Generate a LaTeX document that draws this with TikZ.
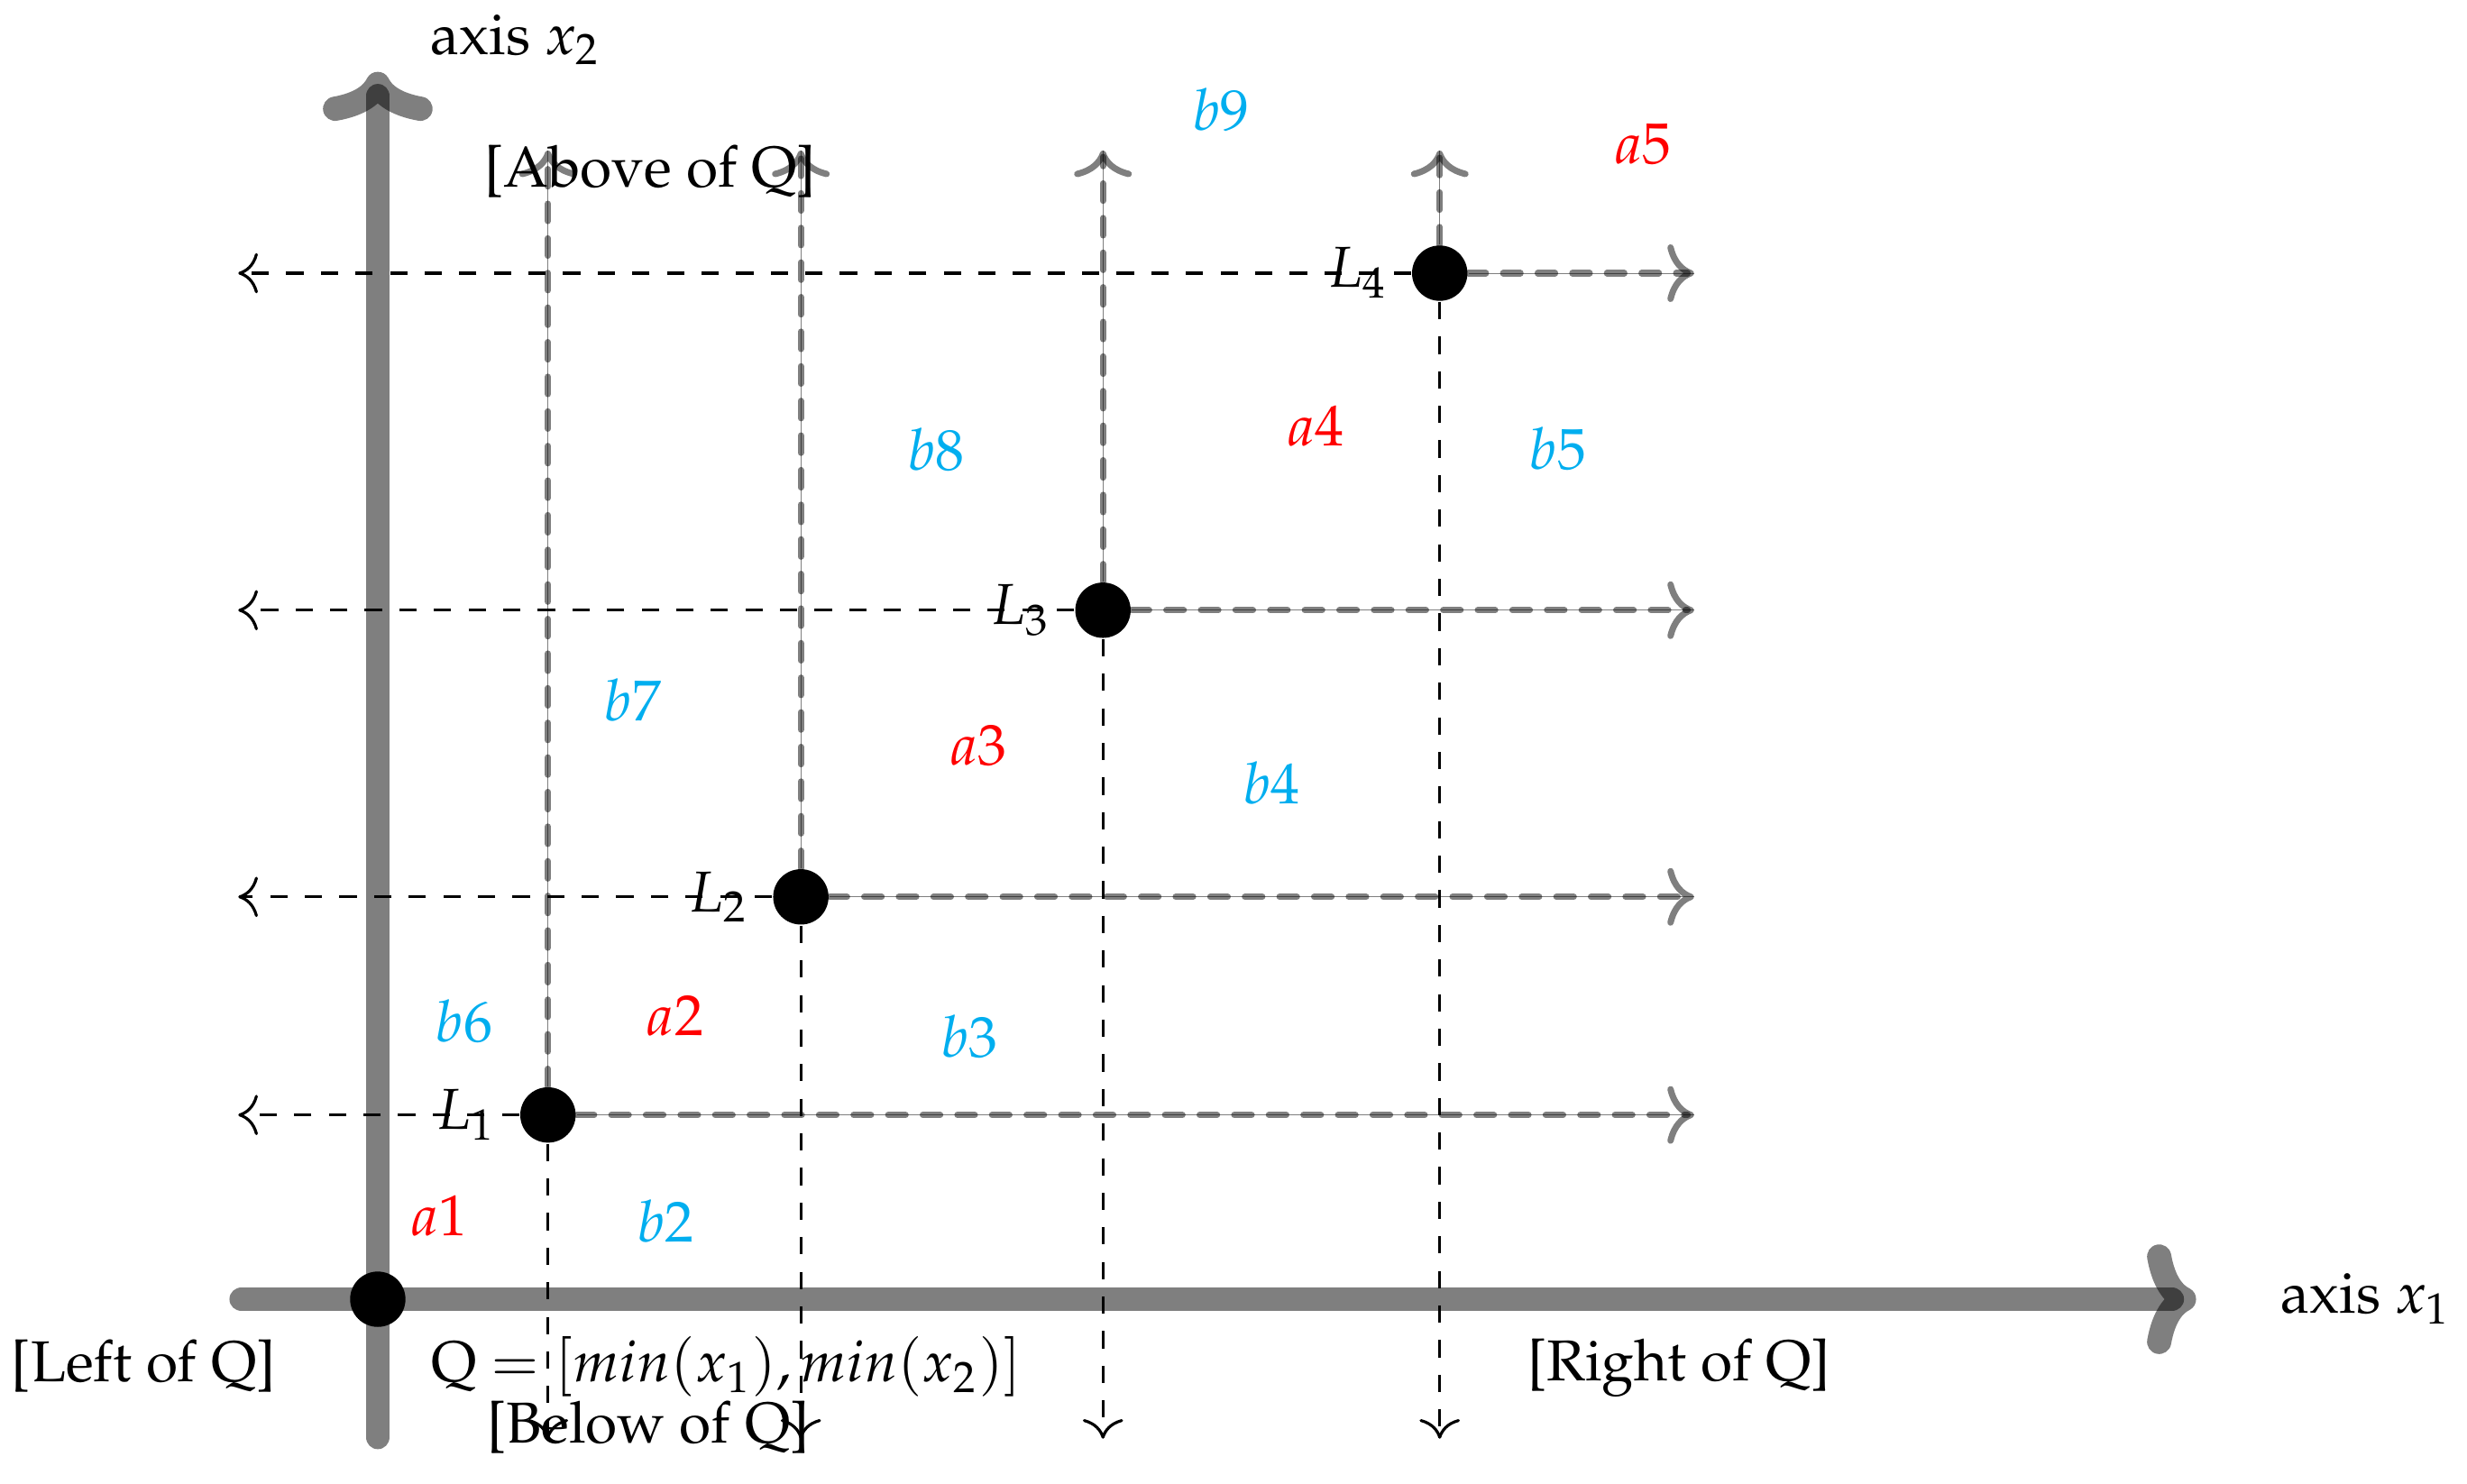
\documentclass[tikz,border=0pt]{standalone}
\usepackage[T1]{fontenc}
\usepackage{mathpazo}
\usetikzlibrary{arrows.meta}
\definecolor{lblblue}{RGB}{0,174,239}
\begin{document}
\begin{tikzpicture}[
  dot/.style={circle, fill=black, inner sep=0pt, minimum size=9.6pt},
  axisline/.style={draw=black, draw opacity=0.5, line width=4.2pt, line cap=round,
    -{Computer Modern Rightarrow[length=8.5pt, width=19pt]}},
  grayarrow/.style={draw=black, draw opacity=0.5, line width=1.1pt, dashed, line cap=round,
    -{Computer Modern Rightarrow[length=4.6pt, width=10pt]}},
  grayfine/.style={draw=black, draw opacity=0.5, line width=0.15pt},
  blackarrow/.style={draw=black, line width=0.5pt, dashed,
    -{Computer Modern Rightarrow[length=3.4pt, width=7pt]}},
  txt/.style={inner sep=0pt, anchor=base},
  alab/.style={text=red},
  blab/.style={text=lblblue},
  llab/.style={label distance=0.5pt}
]
\useasboundingbox (-2.302,-1.121) rectangle (12.731,7.918);

% axes
\coordinate (xs) at (-0.83,0);
\coordinate (xe) at (11.08,0);
\coordinate (ys) at (0,-0.84);
\coordinate (ye) at (0,7.48);
\draw[axisline] (xs) -- (xe);
\draw[axisline] (ys) -- (ye);

% points
\node[dot] (Q) at (0,0) {};
\node[dot, label={[llab]left:$L_1$}] (L1) at (1.037,1.123) {};
\node[dot, label={[llab]left:$L_2$}] (L2) at (2.578,2.452) {};
\node[dot, label={[llab]left:$L_3$}] (L3) at (4.419,4.199) {};
\node[dot, label={[llab]left:$L_4$}] (L4) at (6.471,6.253) {};

\foreach \n/\x/\y in {1/1.037/1.123, 2/2.578/2.452, 3/4.419/4.199, 4/6.471/6.253}{
  \coordinate (L\n r) at (8.02,\y);
  \coordinate (L\n u) at (\x,7.0);
  \coordinate (L\n l) at (-0.85,\y);
  \coordinate (L\n d) at (\x,-0.85);
  \draw[grayfine] (L\n) -- (L\n r);
  \draw[grayfine] (L\n) -- (L\n u);
  \draw[grayarrow] (L\n) -- (L\n r);
  \draw[grayarrow] (L\n) -- (L\n u);
  \draw[blackarrow] (L\n) -- (L\n l);
  \draw[blackarrow] (L\n) -- (L\n d);
}

% texts
\node[txt] (tx2) at (0.841,7.588) {axis $x_2$};
\node[txt] (tx1) at (12.115,-0.086) {axis $x_1$};
\node[txt] (tabove) at (1.66,6.78) {[Above of Q]};
\node[txt] (tleft) at (-1.426,-0.505) {[Left of Q]};
\node[txt] (tq) at (2.125,-0.505) {Q $=[min(x_1),min(x_2)]$};
\node[txt] (tbelow) at (1.648,-0.874) {[Below of Q]};
\node[txt] (tright) at (7.93,-0.498) {[Right of Q]};

% region labels
\node[alab] (a1) at (0.373,0.506) {$a1$};
\node[alab] (a2) at (1.811,1.724) {$a2$};
\node[alab] (a3) at (3.662,3.373) {$a3$};
\node[alab] (a4) at (5.714,5.32) {$a4$};
\node[alab] (a5) at (7.708,7.036) {$a5$};
\node[blab] (b2) at (1.754,0.478) {$b2$};
\node[blab] (b3) at (3.604,1.6) {$b3$};
\node[blab] (b4) at (5.445,3.143) {$b4$};
\node[blab] (b5) at (7.19,5.185) {$b5$};
\node[blab] (b6) at (0.526,1.695) {$b6$};
\node[blab] (b7) at (1.552,3.651) {$b7$};
\node[blab] (b8) at (3.403,5.176) {$b8$};
\node[blab] (b9) at (5.138,7.247) {$b9$};
\end{tikzpicture}
\end{document}
